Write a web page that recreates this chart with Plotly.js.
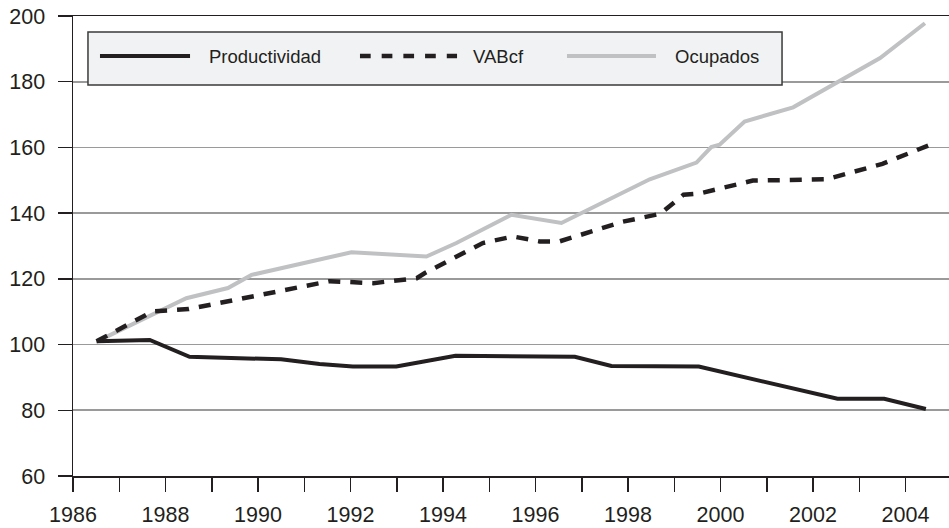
<!DOCTYPE html>
<html>
<head>
<meta charset="utf-8">
<script src="https://cdn.plot.ly/plotly-3.0.1.min.js"></script>
<style>
html,body{margin:0;padding:0;background:#fff;}
#chart{width:949px;height:528px;}
</style>
</head>
<body>
<div id="chart"></div>
<script>
// Series names
var seriesNames = ["Productividad", "VABcf", "Ocupados"];

// Productividad (solid black)
var prodX = [1986.51, 1987.66, 1988.52, 1990.5, 1991.33, 1992.05, 1992.99, 1994.27, 1996.85, 1997.64, 1999.53, 2002.53, 2003.54, 2004.44];
var prodY = [101.0, 101.4, 96.3, 95.5, 94.1, 93.3, 93.3, 96.6, 96.3, 93.5, 93.3, 83.5, 83.5, 80.4];

// VABcf (dashed black)
var vabX = [1986.51, 1987.72, 1988.5, 1991.55, 1992.49, 1993.43, 1993.6, 1994.86, 1995.51, 1996.09, 1996.52, 1997.89, 1998.7, 1999.2, 1999.55, 2000.7, 2002.29, 2003.5, 2004.53];
var vabY = [101.0, 110.1, 110.8, 119.3, 118.7, 120.2, 121.7, 130.9, 132.9, 131.4, 131.4, 137.4, 139.8, 145.6, 146.0, 149.9, 150.3, 155.0, 160.8];

// Ocupados (light grey)
var ocuX = [1986.51, 1988.45, 1989.35, 1989.86, 1992.02, 1993.64, 1994.29, 1995.48, 1996.56, 1998.47, 1999.48, 1999.8, 1999.98, 2000.52, 2001.57, 2003.45, 2004.42];
var ocuY = [100.9, 114.1, 117.2, 121.2, 128.1, 126.8, 130.9, 139.5, 137.0, 150.3, 155.4, 160.1, 160.8, 167.9, 172.2, 187.2, 197.8];

// Axis ticks
var xTickVals = [1986, 1988, 1990, 1992, 1994, 1996, 1998, 2000, 2002, 2004];
var xTickText = ["1986", "1988", "1990", "1992", "1994", "1996", "1998", "2000", "2002", "2004"];
var yTickVals = [60, 80, 100, 120, 140, 160, 180, 200];

var dark = "#231f20";
var grey = "#c0c1c3";

var traces = [
  {x: ocuX, y: ocuY, name: seriesNames[2], mode: "lines", line: {color: grey, width: 4}},
  {x: vabX, y: vabY, name: seriesNames[1], mode: "lines", line: {color: dark, width: 4.5, dash: "12px,10px"}},
  {x: prodX, y: prodY, name: seriesNames[0], mode: "lines", line: {color: dark, width: 4}}
];

// custom legend (paper coordinates)
var legY = 0.913;
var legItems = [
  {x0: 0.0308, x1: 0.1336, tx: 0.153, style: {color: dark, width: 4}, name: seriesNames[0]},
  {x0: 0.3276, x1: 0.4384, tx: 0.4543, style: {color: dark, width: 4.5, dash: "10.7px,11px"}, name: seriesNames[1]},
  {x0: 0.5639, x1: 0.6655, tx: 0.6849, style: {color: grey, width: 4}, name: seriesNames[2]}
];
var shapes = [{
  type: "rect", xref: "paper", yref: "paper",
  x0: 0.0171, x1: 0.8094, y0: 0.85, y1: 0.9652,
  fillcolor: "#f1f2f4", line: {color: "#3a3a3a", width: 1.5}, layer: "above"
}];
var annotations = [];
legItems.forEach(function(it){
  shapes.push({type: "line", xref: "paper", yref: "paper", x0: it.x0, x1: it.x1, y0: legY, y1: legY, line: it.style, layer: "above"});
  annotations.push({xref: "paper", yref: "paper", x: it.tx, y: legY, xanchor: "left", yanchor: "middle",
    text: it.name, showarrow: false, font: {family: "Liberation Sans, Arial, sans-serif", size: 18.5, color: dark}});
});

var layout = {
  width: 949, height: 528,
  margin: {l: 73, r: 0, t: 16, b: 52, pad: 0},
  paper_bgcolor: "#ffffff", plot_bgcolor: "#ffffff",
  showlegend: false,
  font: {family: "Liberation Sans, Arial, sans-serif", size: 21.5, color: dark},
  xaxis: {
    range: [1986, 2004.94], tickmode: "array", tickvals: xTickVals, ticktext: xTickText,
    ticks: "outside", ticklen: 14, tickwidth: 1.5, tickcolor: dark, ticklabelstandoff: 5,
    minor: {dtick: 1, tick0: 1986, ticks: "outside", ticklen: 14, tickwidth: 1.5, tickcolor: dark, showgrid: false},
    showline: true, linecolor: dark, linewidth: 1.5, mirror: true,
    showgrid: false, zeroline: false, fixedrange: true
  },
  yaxis: {
    range: [60, 200], tickvals: yTickVals,
    ticks: "outside", ticklen: 14, tickwidth: 1.5, tickcolor: dark, ticklabelstandoff: 8,
    showline: true, linecolor: dark, linewidth: 1.5,
    showgrid: true, gridcolor: "#9a9a9a", gridwidth: 1.6, zeroline: false, fixedrange: true
  },
  shapes: shapes,
  annotations: annotations
};

Plotly.newPlot("chart", traces, layout, {displayModeBar: false, staticPlot: true});
</script>
</body>
</html>
